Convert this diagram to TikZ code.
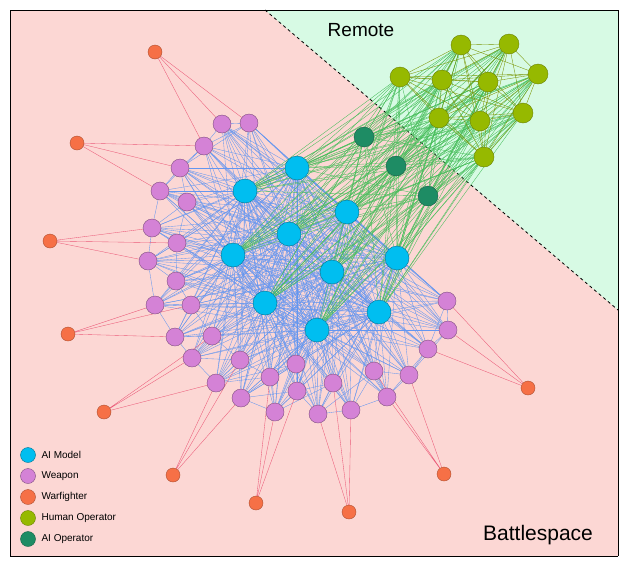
\documentclass[tikz,border=0pt]{standalone}
\usepackage{fontspec}
\setmainfont{Liberation Sans}
\definecolor{modelcyan}{RGB}{0,190,240}
\definecolor{weaponpink}{RGB}{212,130,214}
\definecolor{fighterorange}{RGB}{246,112,70}
\definecolor{humanolive}{RGB}{150,185,0}
\definecolor{aiopgreen}{RGB}{30,140,100}
\definecolor{battlebg}{RGB}{252,215,212}
\definecolor{remotebg}{RGB}{215,250,228}
\definecolor{meshblue}{RGB}{100,150,240}
\definecolor{meshgreen}{RGB}{70,190,90}
\definecolor{meshred}{RGB}{235,90,120}
\pgfdeclarelayer{bg}
\pgfdeclarelayer{edges}
\pgfsetlayers{bg,edges,main}
\tikzset{
  model/.style={circle, draw=modelcyan!60!black, fill=modelcyan, minimum size=24pt, inner sep=0pt},
  weapon/.style={circle, draw=weaponpink!60!black, fill=weaponpink, minimum size=18pt, inner sep=0pt},
  fighter/.style={circle, draw=fighterorange!70!black, fill=fighterorange, minimum size=14pt, inner sep=0pt},
  human/.style={circle, draw=humanolive!70!black, fill=humanolive, minimum size=20pt, inner sep=0pt},
  aiop/.style={circle, draw=aiopgreen!70!black, fill=aiopgreen, minimum size=20pt, inner sep=0pt},
  blueline/.style={meshblue, line width=0.35pt},
  greenline/.style={meshgreen, line width=0.35pt},
  oliveline/.style={humanolive!80!black, line width=0.35pt},
  redline/.style={meshred, line width=0.35pt},
  legend/.style={font=\fontsize{10}{12}\selectfont, anchor=west},
}
\begin{document}
\begin{tikzpicture}[x=1pt,y=-1pt]
    \useasboundingbox (0,0) rectangle (628,568);
    % background regions
    \begin{pgfonlayer}{bg}
    \fill[battlebg] (10,10) rectangle (618,556);
    \fill[remotebg] (265,10) -- (618,10) -- (618,310) -- cycle;
    \draw[dashed, thick] (265,10) -- (618,310);
    \draw[thick] (10,556) -- (10,10) -- (618,10) -- (618,556);
    \draw[thick] (10,556) -- (618,556);
    \end{pgfonlayer}

    % AI models
    \foreach \x/\y [count=\i] in {297/168,245/191,347/212,289/234,233/255,397/258,332/272,265/303,379/312,317/330}
        \node[model] (m\i) at (\x,\y) {};
    % AI operators
    \foreach \x/\y [count=\i] in {364/137,396/166,428/196}
        \node[aiop] (o\i) at (\x,\y) {};
    % human operators
    \foreach \x/\y [count=\i] in {461/45,509/44,400/77,442/80,488/82,538/74,439/118,480/121,523/113,484/157}
        \node[human] (h\i) at (\x,\y) {};
    % weapons
    \foreach \x/\y [count=\i] in {222/124,249/123,204/146,180/168,160/191,187/202,152/228,177/243,148/261,176/281,155/305,191/305,175/337,212/336,192/358,240/360,216/383,270/377,296/364,241/398,275/412,297/391,333/383,318/414,351/410,374/371,387/397,409/375,428/349,448/330,447/301}
        \node[weapon] (p\i) at (\x,\y) {};
    % warfighters
    \foreach \x/\y [count=\i] in {155/52,77/143,50/241,68/334,104/412,173/475,256/503,349/512,444/474,528/388}
        \node[fighter] (f\i) at (\x,\y) {};

    \begin{pgfonlayer}{edges}
    % model mesh
    \foreach \a in {1,...,10} {
        \foreach \b in {1,...,10} {
            \ifnum\a<\b \draw[blueline] (m\a) -- (m\b); \fi
        }
        \foreach \p in {1,...,31}
            \draw[blueline] (m\a) -- (p\p);
    }
    % weapon neighbours
    \foreach \p [evaluate=\p as \q using {int(mod(\p,31)+1)}, evaluate=\p as \r using {int(mod(\p+1,31)+1)}] in {1,...,31}
        \draw[blueline] (p\p) -- (p\q) (p\p) -- (p\r);
    % remote links
    \foreach \a in {1,...,10} {
        \foreach \o in {1,2,3}
            \draw[greenline] (m\a) -- (o\o);
        \foreach \h in {1,...,10}
            \draw[greenline] (m\a) -- (h\h);
    }
    \foreach \o in {1,2,3}
        \foreach \h in {1,...,10}
            \draw[greenline] (o\o) -- (h\h);
    \foreach \a in {1,...,10} {
        \foreach \b in {1,...,10} {
            \ifnum\a<\b \draw[oliveline] (h\a) -- (h\b); \fi
        }
    }
    % warfighter links
    \foreach \f/\u/\v/\w in {1/1/2/3,2/3/4/5,3/7/8/9,4/11/12/13,5/14/15/17,6/16/17/20,7/18/21/22,8/23/24/25,9/26/27/28,10/29/30/31}
        \draw[redline] (p\u) -- (f\f) -- (p\v) (f\f) -- (p\w);
    \end{pgfonlayer}

    % labels
    \node[font=\fontsize{19}{22}\selectfont] (remote) at (361,30) {Remote};
    \node[font=\fontsize{21}{25}\selectfont] (battle) at (538,535) {Battlespace};

    % legend
    \node[model, minimum size=15pt] (k1) at (28,455) {};
    \node[weapon, minimum size=15pt] (k2) at (28,476) {};
    \node[fighter, minimum size=15pt] (k3) at (28,497) {};
    \node[human, minimum size=15pt] (k4) at (28,518) {};
    \node[aiop, minimum size=15pt] (k5) at (28,539) {};
    \node[legend] at (38,455) {AI Model};
    \node[legend] at (38,476) {Weapon};
    \node[legend] at (38,497) {Warfighter};
    \node[legend] at (38,518) {Human Operator};
    \node[legend] at (38,539) {AI Operator};
\end{tikzpicture}
\end{document}
